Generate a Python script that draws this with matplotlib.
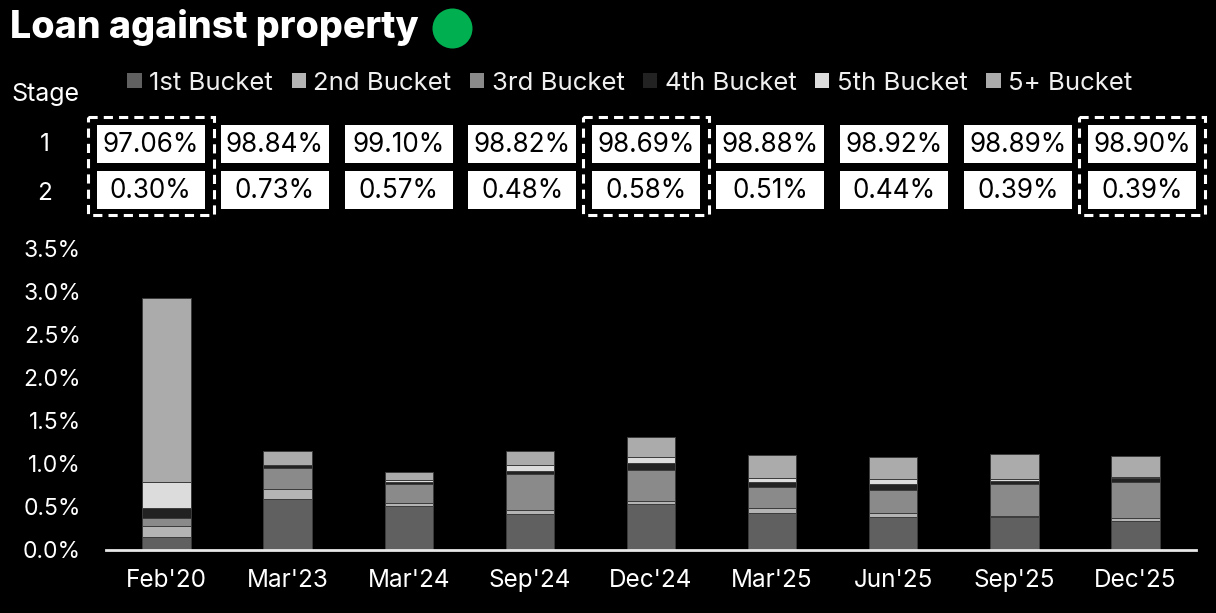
import matplotlib.pyplot as plt
from matplotlib.patches import Rectangle, Circle, Patch
import numpy as np

plt.rcParams['font.family'] = ['Inter', 'DejaVu Sans']

periods = ["Feb'20", "Mar'23", "Mar'24", "Sep'24", "Dec'24", "Mar'25", "Jun'25", "Sep'25", "Dec'25"]

# bucket-wise share (%)
bucket_1 = [0.15, 0.59, 0.51, 0.42, 0.53, 0.43, 0.38, 0.38, 0.34]
bucket_2 = [0.13, 0.12, 0.04, 0.04, 0.04, 0.06, 0.05, 0.01, 0.03]
bucket_3 = [0.09, 0.24, 0.22, 0.42, 0.36, 0.24, 0.27, 0.38, 0.42]
bucket_4 = [0.12, 0.04, 0.02, 0.04, 0.08, 0.06, 0.06, 0.03, 0.04]
bucket_5 = [0.30, 0.00, 0.02, 0.06, 0.07, 0.05, 0.06, 0.02, 0.02]
bucket_5p = [2.13, 0.16, 0.09, 0.17, 0.23, 0.26, 0.26, 0.29, 0.24]

stage_1 = ["97.06%", "98.84%", "99.10%", "98.82%", "98.69%", "98.88%", "98.92%", "98.89%", "98.90%"]
stage_2 = ["0.30%", "0.73%", "0.57%", "0.48%", "0.58%", "0.51%", "0.44%", "0.39%", "0.39%"]
highlight = [0, 4, 8]

series = [bucket_1, bucket_2, bucket_3, bucket_4, bucket_5, bucket_5p]
names = ["1st Bucket", "2nd Bucket", "3rd Bucket", "4th Bucket", "5th Bucket", "5+ Bucket"]
colors = ["#606060", "#b4b4b4", "#8a8a8a", "#222222", "#dcdcdc", "#ababab"]

W, H = 1216, 613
fig = plt.figure(figsize=(W / 100, H / 100), dpi=100, facecolor="black")

def px_axes(x0, y0, x1, y1):
    # axes placed by pixel box (top-left origin)
    return fig.add_axes([x0 / W, 1 - y1 / H, (x1 - x0) / W, (y1 - y0) / H])

# ---- bar chart
ax = px_axes(106, 248, 1196, 550)
ax.set_facecolor("black")
x = np.arange(len(periods))
bottom = np.zeros(len(periods))
for vals, name, c in zip(series, names, colors):
    ax.bar(x, vals, 0.4, bottom=bottom, color=c, edgecolor="#3c3c3c", linewidth=0.7, label=name)
    bottom += np.array(vals)

ax.set_xlim(-0.5, len(periods) - 0.5)
ax.set_ylim(0, 3.5)
ax.set_yticks(np.arange(0, 3.51, 0.5))
ax.set_yticklabels([f"{v:.1f}%" for v in np.arange(0, 3.51, 0.5)])
ax.set_xticks(x)
ax.set_xticklabels(periods)
ax.tick_params(axis="y", length=0, pad=18, labelsize=16.5, labelcolor="white")
ax.tick_params(axis="x", length=0, pad=14, labelsize=17.5, labelcolor="white")
for s in ["top", "right", "left"]:
    ax.spines[s].set_visible(False)
ax.spines["bottom"].set_color("#e8e8e8")
ax.spines["bottom"].set_linewidth(2)

# ---- legend
handles = [Patch(facecolor=c, edgecolor="none", label=n) for c, n in zip(colors, names)]
fig.legend(handles=handles, loc="center", bbox_to_anchor=(630 / W, 1 - 83 / H), ncol=6,
           frameon=False, fontsize=18.5, labelcolor="#f0f0f0", handlelength=0.55, handleheight=0.55,
           handletextpad=0.3, columnspacing=0.72)

# ---- title
fig.text(10 / W, 1 - 38 / H, "Loan against property", color="white", fontsize=27,
         fontweight="heavy", va="baseline", ha="left")
fig.patches.append(Circle((452.5 / 100, (H - 28.5) / 100), 0.2, transform=fig.dpi_scale_trans,
                          facecolor="#00b050", edgecolor="none"))

# ---- stage table
col_w = 123.9
tx0 = 150.7 - col_w / 2
tab = px_axes(tx0, 115, tx0 + col_w * 9, 217)
tab.set_xlim(-0.5, 8.5)
tab.set_ylim(1.583, -0.635)
tab.axis("off")
bw, bh = 108 / col_w, 38.5 / 46
for i in range(len(periods)):
    for r, vals in enumerate([stage_1, stage_2]):
        tab.add_patch(Rectangle((i - bw / 2, r - bh / 2), bw, bh, facecolor="white", edgecolor="none"))
        tab.text(i, r + 0.02, vals[i], ha="center", va="center", fontsize=18.8, color="black")
for i in highlight:
    hw = 126 / col_w
    tab.add_patch(Rectangle((i - hw / 2, -0.6), hw, 2.15, facecolor="none", edgecolor="white",
                            linewidth=2.2, linestyle=(0, (3, 2)), clip_on=False))

fig.text(45 / W, 1 - 95 / H, "Stage", color="white", fontsize=18, ha="center", va="center")
fig.text(45 / W, 1 - 145 / H, "1", color="white", fontsize=17.5, ha="center", va="center")
fig.text(45 / W, 1 - 193 / H, "2", color="white", fontsize=17.5, ha="center", va="center")

fig.savefig("out.png", dpi=100, facecolor="black")
